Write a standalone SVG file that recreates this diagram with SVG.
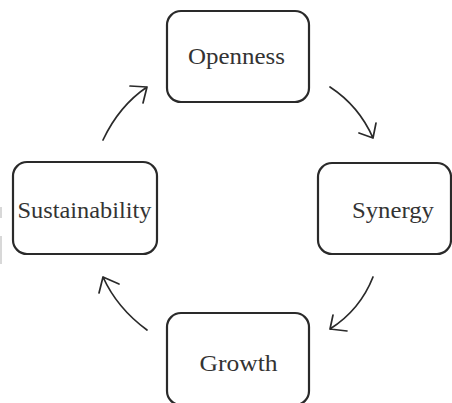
<svg xmlns="http://www.w3.org/2000/svg" width="452" height="403" viewBox="0 0 452 403">
<style>
.box{fill:#fff;stroke:#2a2a2a;stroke-width:2.2}
.lbl{font-family:"Liberation Serif","DejaVu Serif",serif;font-size:22.5px;fill:#333;text-anchor:middle}
.arc{fill:none;stroke:#2a2a2a;stroke-width:1.7;stroke-linecap:round;stroke-linejoin:round}
</style>
<rect width="452" height="403" fill="#fff"/>
<rect x="0" y="207" width="2" height="11" fill="#d8d8d8"/>
<rect x="0" y="236" width="2" height="28" fill="#d8d8d8"/>
<g id="openness"><rect class="box" x="167" y="11" width="142" height="91" rx="14"/><text class="lbl" x="236.5" y="64" textLength="97" lengthAdjust="spacingAndGlyphs">Openness</text></g>
<g id="synergy"><rect class="box" x="318" y="163" width="133" height="91" rx="14"/><text class="lbl" x="393" y="218" textLength="82" lengthAdjust="spacingAndGlyphs">Synergy</text></g>
<g id="growth"><rect class="box" x="167" y="313" width="142" height="92" rx="14"/><text class="lbl" x="238.5" y="371" textLength="78" lengthAdjust="spacingAndGlyphs">Growth</text></g>
<g id="sustainability"><rect class="box" x="13" y="162" width="144" height="92" rx="14"/><text class="lbl" x="84.5" y="218" textLength="134" lengthAdjust="spacingAndGlyphs">Sustainability</text></g>
<g id="connectors">
<path class="arc" d="M330,87 Q359,106 373,138 M359,133 L373,138 L376,123"/>
<path class="arc" d="M373,277 Q360,310 330,329 M347,331 L330,329 L333,315"/>
<path class="arc" d="M147,330 Q117,308 103,277 M119,284 L103,277 L99,293"/>
<path class="arc" d="M103,140 Q119,106 147,87 M130,86 L147,87 L143,103"/>
</g>
</svg>
